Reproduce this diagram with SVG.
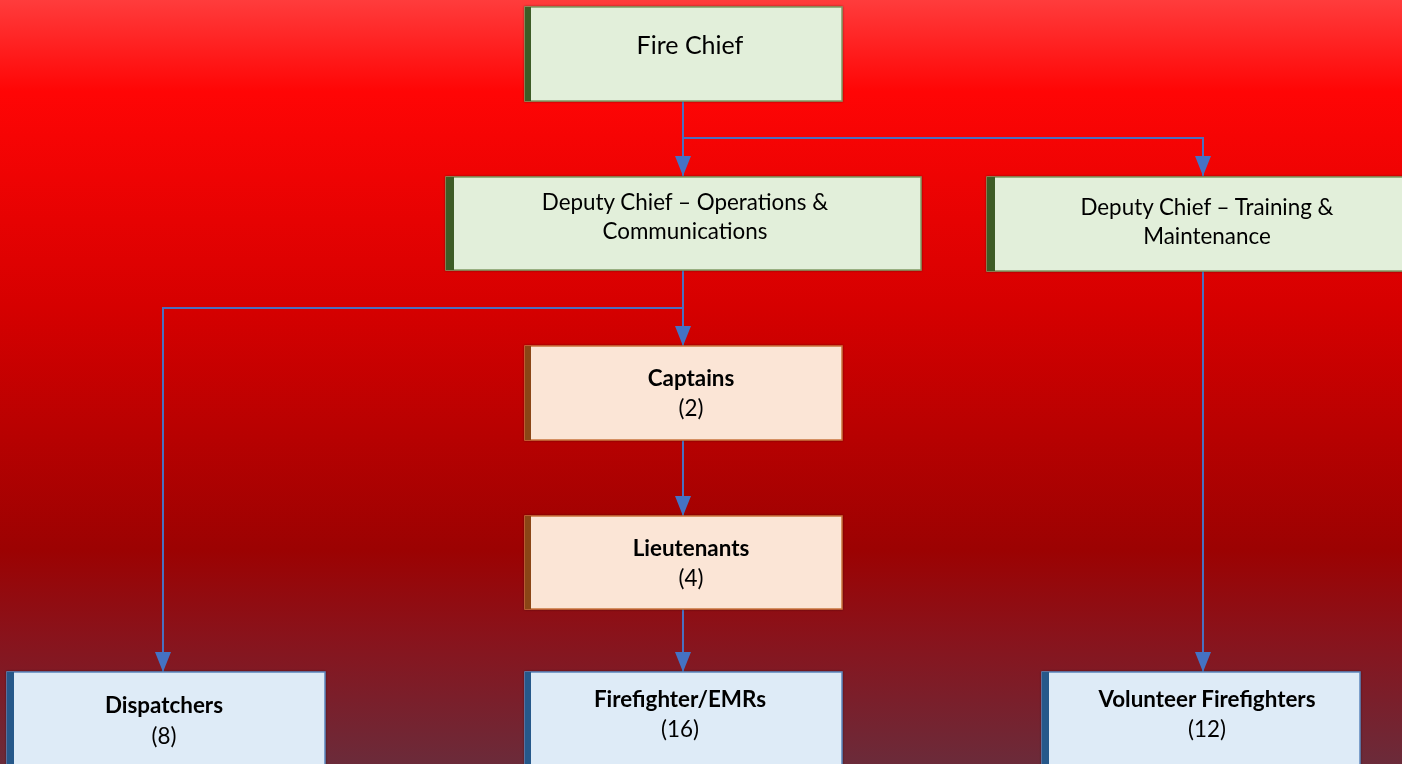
<svg xmlns="http://www.w3.org/2000/svg" width="1402" height="764" viewBox="0 0 1402 764">
<defs>
<linearGradient id="bg" x1="0" y1="0" x2="0" y2="1">
<stop offset="0" stop-color="#ff3c3c"/>
<stop offset="0.12" stop-color="#ff0505"/>
<stop offset="0.4" stop-color="#d60000"/>
<stop offset="0.72" stop-color="#9c0202"/>
<stop offset="0.84" stop-color="#88141d"/>
<stop offset="1" stop-color="#6b2b3a"/>
</linearGradient>
<marker id="arr" markerWidth="20" markerHeight="16" refX="20" refY="8" orient="auto" markerUnits="userSpaceOnUse" viewBox="0 0 20 16">
<path d="M0,0 L20,8 L0,16 Z" fill="#4472c4"/>
</marker>
<filter id="sh" x="-5%" y="-10%" width="110%" height="120%">
<feDropShadow dx="0" dy="0" stdDeviation="1.2" flood-color="#000" flood-opacity="0.45"/>
</filter>
</defs>
<style>
.g rect.b{fill:#e2efda;stroke:#7f9b63;stroke-width:1.5}
.g rect.l{fill:#3d5b26}
.o rect.b{fill:#fbe5d6;stroke:#c9733c;stroke-width:1.5}
.o rect.l{fill:#8a4512}
.u rect.b{fill:#deebf7;stroke:#5b86bd;stroke-width:1.5}
.u rect.l{fill:#25598a}
text{font-family:Lato,"Liberation Sans",sans-serif;fill:#000;text-anchor:middle}
.t1{font-size:25px}
.t2{font-size:22.4px}
.bd{font-size:22.4px;font-weight:bold}
.cn path{fill:none;stroke:#4a6fc0;stroke-width:2}
</style>
<rect x="0" y="0" width="1402" height="764" fill="url(#bg)"/>

<g id="connectors" class="cn">
<path d="M683,101 V176" marker-end="url(#arr)"/>
<path d="M683,138 H1203 V176" marker-end="url(#arr)"/>
<path d="M683,270 V346" marker-end="url(#arr)"/>
<path d="M683,308 H163 V672" marker-end="url(#arr)"/>
<path d="M683,440 V516" marker-end="url(#arr)"/>
<path d="M683,609 V672" marker-end="url(#arr)"/>
<path d="M1203,271 V672" marker-end="url(#arr)"/>
</g>

<g id="fire-chief" class="g" filter="url(#sh)">
<rect class="b" x="525" y="7" width="317" height="94"/>
<rect class="l" x="525" y="7" width="6" height="94"/>
<text class="t1" x="690" y="54">Fire Chief</text>
</g>

<g id="deputy-ops" class="g" filter="url(#sh)">
<rect class="b" x="446" y="177" width="475" height="93"/>
<rect class="l" x="446" y="177" width="8" height="93"/>
<text class="t2" x="685" y="210">Deputy Chief – Operations &amp;</text>
<text class="t2" x="685" y="239">Communications</text>
</g>

<g id="deputy-training" class="g" filter="url(#sh)">
<rect class="b" x="987" y="177" width="440" height="94"/>
<rect class="l" x="987" y="177" width="8" height="94"/>
<text class="t2" x="1207" y="215">Deputy Chief – Training &amp;</text>
<text class="t2" x="1207" y="244">Maintenance</text>
</g>

<g id="captains" class="o" filter="url(#sh)">
<rect class="b" x="525" y="346" width="317" height="94"/>
<rect class="l" x="525" y="346" width="6" height="94"/>
<text class="bd" x="691" y="386">Captains</text>
<text class="t2" x="691" y="416">(2)</text>
</g>

<g id="lieutenants" class="o" filter="url(#sh)">
<rect class="b" x="525" y="516" width="317" height="93"/>
<rect class="l" x="525" y="516" width="6" height="93"/>
<text class="bd" x="691" y="556">Lieutenants</text>
<text class="t2" x="691" y="586">(4)</text>
</g>

<g id="dispatchers" class="u" filter="url(#sh)">
<rect class="b" x="7" y="672" width="318" height="110"/>
<rect class="l" x="7" y="672" width="7" height="110"/>
<text class="bd" x="164" y="713">Dispatchers</text>
<text class="t2" x="164" y="744">(8)</text>
</g>

<g id="firefighters" class="u" filter="url(#sh)">
<rect class="b" x="525" y="672" width="317" height="110"/>
<rect class="l" x="525" y="672" width="6" height="110"/>
<text class="bd" x="680" y="707">Firefighter/EMRs</text>
<text class="t2" x="680" y="737">(16)</text>
</g>

<g id="volunteers" class="u" filter="url(#sh)">
<rect class="b" x="1042" y="672" width="318" height="110"/>
<rect class="l" x="1042" y="672" width="7" height="110"/>
<text class="bd" x="1207" y="707">Volunteer Firefighters</text>
<text class="t2" x="1207" y="737">(12)</text>
</g>
</svg>
